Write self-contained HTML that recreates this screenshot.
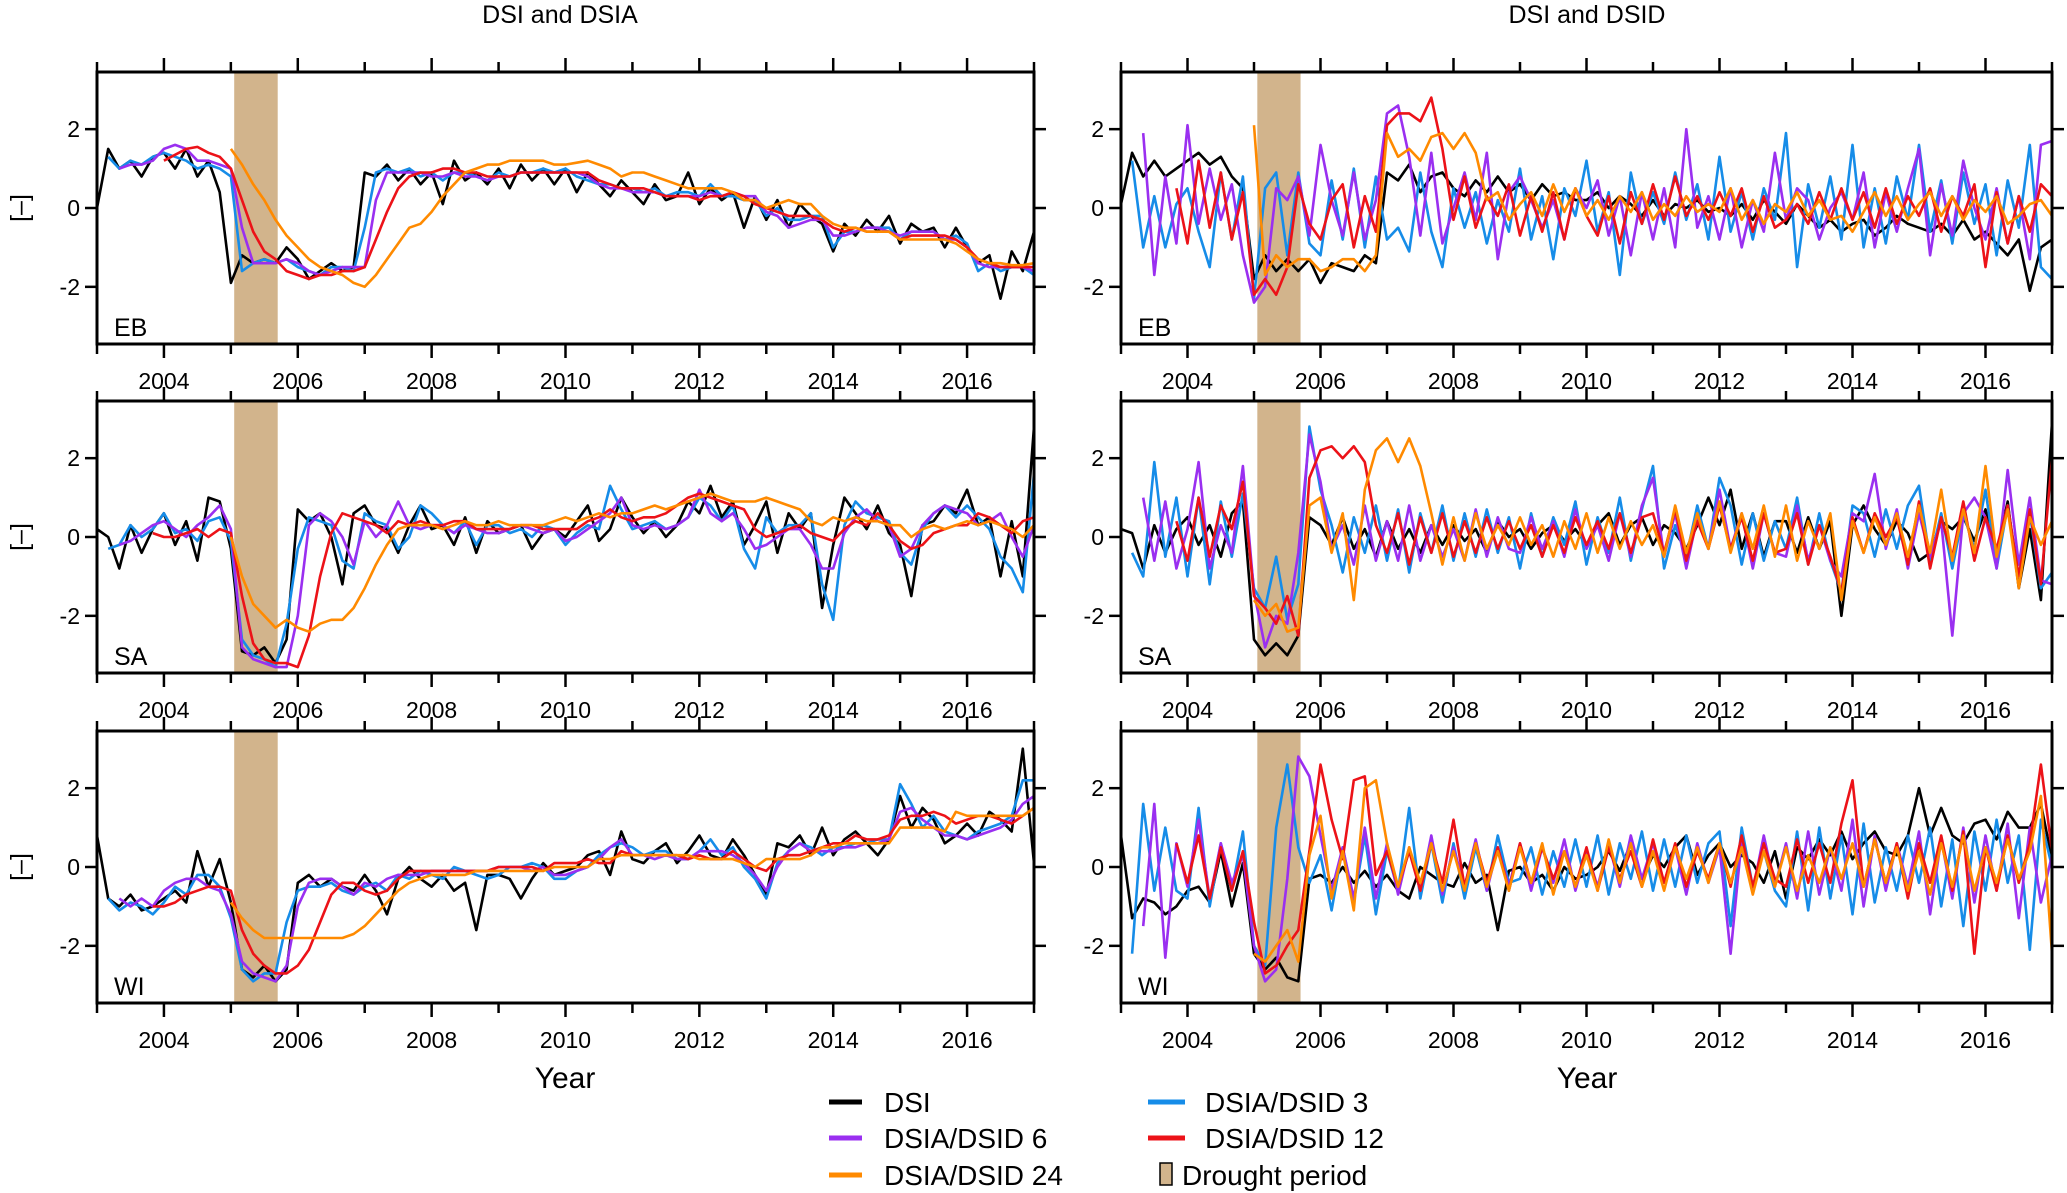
<!DOCTYPE html>
<html><head><meta charset="utf-8">
<style>
html,body{margin:0;padding:0;background:#fff;}
svg{display:block;font-family:"Liberation Sans",sans-serif;}
</style></head>
<body>
<svg id="fig" width="2067" height="1193" viewBox="0 0 2067 1193" xmlns="http://www.w3.org/2000/svg">
<text x="560" y="23" font-size="25" text-anchor="middle">DSI and DSIA</text>
<text x="1587" y="23" font-size="25" text-anchor="middle">DSI and DSID</text>
<text x="565" y="1088" font-size="30" text-anchor="middle">Year</text>
<text x="1587" y="1088" font-size="30" text-anchor="middle">Year</text>
<g id="legend">
 <g><line x1="829" y1="1102" x2="862" y2="1102" stroke="#000" stroke-width="5"/><text x="884" y="1112" font-size="28">DSI</text></g>
 <g><line x1="829" y1="1138" x2="862" y2="1138" stroke="#9a2ff0" stroke-width="5"/><text x="884" y="1148" font-size="28">DSIA/DSID 6</text></g>
 <g><line x1="829" y1="1175" x2="862" y2="1175" stroke="#ff8a00" stroke-width="5"/><text x="884" y="1185" font-size="28">DSIA/DSID 24</text></g>
 <g><line x1="1148" y1="1102" x2="1185" y2="1102" stroke="#168ce8" stroke-width="5"/><text x="1205" y="1112" font-size="28">DSIA/DSID 3</text></g>
 <g><line x1="1148" y1="1138" x2="1185" y2="1138" stroke="#ec1218" stroke-width="5"/><text x="1205" y="1148" font-size="28">DSIA/DSID 12</text></g>
 <g><rect x="1160" y="1163" width="12" height="22" fill="#d2b48c" stroke="#000" stroke-width="1.5"/><text x="1182" y="1185" font-size="28">Drought period</text></g>
</g>
</svg>
<script>
// time axis: bimonthly samples, 2003.0 .. 2017.0
const timeStep = 1/6;
const startYear = 2003;
const xTicksMajor = [2004,2006,2008,2010,2012,2014,2016];
const xTicksMinor = [2003,2005,2007,2009,2011,2013,2015,2017];
const yTicks = [-2,0,2];
const droughtPeriod = [2005.05, 2005.7];
const seriesNames = ['DSI','DSIA/DSID 3','DSIA/DSID 6','DSIA/DSID 12','DSIA/DSID 24'];
const regionLabels = ['EB','SA','WI'];
const N = null;

// ---- Left column (DSI and DSIA) ----
const ebDSI = [0,1.5,1.0,1.2,0.8,1.3, 1.4,1.0,1.5,0.8,1.2,0.4, -1.9,-1.2,-1.4,-1.3,-1.4,-1.0, -1.3,-1.8,-1.6,-1.4,-1.6,-1.5, 0.9,0.8,1.1,0.7,1.0,0.6, 0.9,0.1,1.2,0.7,0.9,0.6, 1.0,0.5,1.1,0.7,1.0,0.6, 1.0,0.4,0.9,0.6,0.3,0.7, 0.4,0.1,0.6,0.2,0.3,0.9, 0.1,0.5,0.2,0.4,-0.5,0.3, -0.3,0.2,-0.5,0.1,-0.2,-0.4, -1.1,-0.4,-0.7,-0.3,-0.6,-0.2, -0.9,-0.4,-0.6,-0.5,-1.0,-0.5, -1.0,-1.4,-1.2,-2.3,-1.1,-1.6, -0.6];
const ebA3 = [N,1.3,1.0,1.2,1.1,1.3, 1.4,1.3,1.2,1.0,1.1,1.0, 0.8,-1.6,-1.4,-1.3,-1.4,-1.3, -1.5,-1.6,-1.7,-1.5,-1.5,-1.6, -0.5,0.9,1.0,0.9,1.0,0.8, 0.9,0.7,0.9,0.9,0.8,0.7, 0.9,0.8,0.9,0.9,1.0,0.9, 1.0,0.8,0.7,0.6,0.6,0.5, 0.5,0.4,0.5,0.3,0.4,0.4, 0.3,0.6,0.3,0.3,0.2,0.2, -0.2,0.0,-0.3,-0.3,-0.2,-0.2, -1.0,-0.6,-0.6,-0.5,-0.5,-0.5, -0.8,-0.6,-0.6,-0.6,-0.8,-0.7, -0.9,-1.6,-1.4,-1.6,-1.5,-1.5, -1.7];
const ebA6 = [N,N,1.0,1.1,1.1,1.2, 1.5,1.6,1.5,1.2,1.2,1.1, 1.0,-0.5,-1.4,-1.4,-1.4,-1.3, -1.4,-1.6,-1.7,-1.6,-1.5,-1.5, -1.5,0.2,0.9,0.9,0.9,0.9, 0.8,0.8,0.9,0.8,0.8,0.7, 0.8,0.8,0.9,0.9,0.9,0.9, 0.9,0.9,0.8,0.6,0.5,0.5, 0.4,0.4,0.4,0.3,0.3,0.3, 0.3,0.4,0.3,0.4,0.3,0.3, -0.1,-0.2,-0.5,-0.4,-0.3,-0.3, -0.7,-0.7,-0.6,-0.5,-0.5,-0.6, -0.7,-0.6,-0.6,-0.6,-0.8,-0.8, -1.0,-1.4,-1.5,-1.5,-1.5,-1.5, -1.6];
const ebA12 = [N,N,N,N,N,N, 1.2,1.35,1.5,1.55,1.4,1.3, 1.0,0.2,-0.6,-1.1,-1.3,-1.6, -1.7,-1.8,-1.7,-1.7,-1.6,-1.6, -1.5,-0.8,-0.1,0.5,0.8,0.9, 0.9,1.0,1.0,0.9,0.9,0.8, 0.8,0.8,0.9,0.9,0.9,0.9, 0.9,0.9,0.9,0.7,0.6,0.5, 0.5,0.5,0.4,0.3,0.3,0.3, 0.2,0.3,0.3,0.4,0.3,0.1, 0.0,-0.1,-0.2,-0.2,-0.2,-0.3, -0.5,-0.6,-0.5,-0.6,-0.6,-0.6, -0.8,-0.7,-0.7,-0.7,-0.7,-0.8, -1.0,-1.3,-1.4,-1.5,-1.5,-1.5, -1.5];
const ebA24 = [N,N,N,N,N,N, N,N,N,N,N,N, 1.5,1.1,0.6,0.2,-0.3,-0.7, -1.0,-1.3,-1.5,-1.6,-1.7,-1.9, -2.0,-1.7,-1.3,-0.9,-0.5,-0.4, -0.1,0.3,0.6,0.9,1.0,1.1, 1.1,1.2,1.2,1.2,1.2,1.1, 1.1,1.15,1.2,1.1,1.0,0.8, 0.9,0.9,0.8,0.7,0.6,0.5, 0.5,0.5,0.5,0.4,0.2,0.2, 0.0,0.1,0.2,0.1,0.1,-0.2, -0.4,-0.5,-0.5,-0.6,-0.6,-0.6, -0.8,-0.8,-0.8,-0.8,-0.8,-0.9, -1.1,-1.3,-1.4,-1.4,-1.45,-1.45, -1.4];

const saDSI = [0.2,0.0,-0.8,0.3,-0.4,0.2, 0.6,-0.2,0.4,-0.6,1.0,0.9, -0.3,-2.9,-3.0,-2.8,-3.2,-2.6, 0.7,0.4,0.6,0.0,-1.2,0.6, 0.8,0.3,0.2,-0.4,0.3,0.8, 0.2,0.3,-0.2,0.5,-0.4,0.4, 0.1,0.2,0.3,-0.3,0.1,0.2, 0.0,0.4,0.8,-0.1,0.2,1.0, 0.5,0.1,0.4,0.0,0.3,0.9, 0.6,1.3,0.5,0.9,-0.2,0.3, 0.9,-0.4,0.6,0.2,0.6,-1.8, -0.2,1.0,0.6,0.2,0.8,0.1, -0.2,-1.5,0.3,0.4,0.8,0.6, 1.2,0.3,0.5,-1.0,0.4,-1.0, 2.8];
const saA3 = [N,-0.3,-0.2,0.3,0.0,0.2, 0.6,0.1,0.2,-0.1,0.4,0.5, -0.1,-2.6,-3.0,-3.1,-3.3,-2.2, -0.3,0.5,0.4,0.3,-0.6,-0.8, 0.6,0.4,0.3,-0.3,0.0,0.8, 0.6,0.3,0.1,0.4,-0.2,0.3, 0.3,0.1,0.2,0.0,0.3,0.2, -0.2,0.1,0.3,0.2,1.3,0.7, 0.2,0.3,0.4,0.2,0.3,0.5, 1.0,0.8,0.4,0.8,-0.3,-0.8, 0.5,0.1,0.3,0.3,0.6,-1.2, -2.1,0.3,0.9,0.6,0.5,0.4, -0.4,-0.7,0.2,0.6,0.8,0.5, 0.8,0.5,0.2,-0.5,-0.8,-1.4, 1.6];
const saA6 = [N,N,-0.2,-0.1,0.1,0.3, 0.4,0.2,0.0,0.3,0.5,0.8, 0.2,-2.8,-3.1,-3.2,-3.3,-3.3, -2.0,0.3,0.6,0.4,0.0,-0.7, 0.4,0.0,0.3,0.9,0.3,0.2, 0.3,0.3,0.1,0.3,0.2,0.1, 0.1,0.2,0.3,0.2,0.1,0.2, -0.1,0.0,0.2,0.4,0.6,1.0, 0.3,0.2,0.3,0.2,0.3,0.5, 1.2,0.6,0.4,0.6,0.2,-0.3, -0.2,0.0,0.2,0.2,-0.2,-0.8, -0.8,0.1,0.5,0.7,0.4,0.3, -0.5,-0.3,0.3,0.6,0.8,0.7, 0.6,0.3,0.4,0.6,0.0,-0.5, 0.3];
const saA12 = [N,N,N,N,N,0.1, 0.0,0.0,0.1,0.2,0.0,0.2, 0.1,-1.5,-2.7,-3.1,-3.2,-3.2, -3.3,-2.5,-1.0,0.1,0.6,0.5, 0.4,0.3,0.1,0.4,0.3,0.4, 0.3,0.3,0.4,0.4,0.2,0.2, 0.2,0.2,0.3,0.3,0.2,0.2, 0.2,0.2,0.4,0.5,0.7,0.5, 0.4,0.5,0.5,0.6,0.8,1.0, 1.1,1.0,0.9,0.8,0.7,0.2, 0.0,0.1,0.2,0.3,0.1,0.0, -0.1,0.2,0.4,0.3,0.6,0.3, -0.1,-0.3,-0.2,0.1,0.2,0.3, 0.3,0.6,0.5,0.3,0.1,0.4, 0.5];
const saA24 = [N,N,N,N,N,N, N,N,N,N,N,N, 0.0,-1.0,-1.7,-2.0,-2.3,-2.1, -2.3,-2.4,-2.2,-2.1,-2.1,-1.8, -1.3,-0.7,-0.2,0.2,0.3,0.3, 0.3,0.2,0.3,0.4,0.3,0.3, 0.4,0.3,0.3,0.3,0.3,0.4, 0.5,0.4,0.5,0.6,0.5,0.6, 0.6,0.7,0.8,0.7,0.8,0.9, 1.0,1.1,1.0,0.9,0.9,0.9, 1.0,0.9,0.8,0.7,0.4,0.3, 0.5,0.4,0.5,0.4,0.4,0.3, 0.3,0.0,0.2,0.3,0.2,0.3, 0.4,0.3,0.4,0.3,0.2,0.0, 0.3];

const wiDSI = [0.8,-0.8,-1.0,-0.7,-1.1,-1.0, -0.8,-0.6,-0.9,0.4,-0.5,0.2, -0.9,-2.6,-2.8,-2.5,-2.9,-2.6, -0.4,-0.2,-0.5,-0.3,-0.5,-0.6, -0.2,-0.6,-1.2,-0.3,0.0,-0.3, -0.5,-0.2,-0.6,-0.4,-1.6,-0.2, -0.2,-0.3,-0.8,-0.3,0.1,-0.2, -0.1,0.0,0.3,0.4,-0.2,0.9, 0.2,0.1,0.4,0.6,0.1,0.4, 0.8,0.3,0.2,0.7,0.3,-0.2, -0.7,0.6,0.5,0.8,0.3,1.0, 0.3,0.7,0.9,0.6,0.3,0.7, 1.8,1.0,1.5,1.2,0.6,0.8, 1.1,0.8,1.4,1.2,0.9,3.0, 0.1];
const wiA3 = [N,-0.8,-1.1,-0.9,-1.0,-1.2, -0.9,-0.5,-0.7,-0.2,-0.2,-0.5, -1.3,-2.6,-2.9,-2.7,-2.7,-1.4, -0.6,-0.5,-0.5,-0.4,-0.6,-0.7, -0.5,-0.4,-0.6,-0.2,-0.3,-0.1, -0.2,-0.3,0.0,-0.1,-0.2,-0.3, -0.2,0.0,0.0,0.1,0.0,-0.3, -0.3,-0.1,0.0,0.3,0.5,0.6, 0.5,0.3,0.4,0.4,0.2,0.2, 0.4,0.7,0.3,0.5,0.0,-0.3, -0.8,0.1,0.4,0.6,0.5,0.3, 0.5,0.5,0.6,0.6,0.7,0.7, 2.1,1.6,1.0,1.3,0.9,0.8, 0.7,0.9,1.0,1.1,1.3,2.2, 2.2];
const wiA6 = [N,N,-0.8,-1.0,-0.8,-1.0, -0.6,-0.4,-0.3,-0.3,-0.5,-0.6, -1.2,-2.4,-2.7,-2.8,-2.9,-2.5, -1.0,-0.4,-0.3,-0.3,-0.5,-0.7, -0.4,-0.5,-0.3,-0.2,-0.2,-0.2, -0.1,-0.1,-0.1,-0.1,-0.1,-0.1, 0.0,0.0,0.0,-0.1,0.0,-0.2, -0.2,-0.1,0.0,0.2,0.5,0.7, 0.3,0.3,0.2,0.3,0.2,0.2, 0.4,0.4,0.4,0.3,0.1,-0.2, -0.6,0.0,0.4,0.6,0.4,0.4, 0.4,0.5,0.5,0.6,0.6,0.7, 1.4,1.5,1.2,1.0,0.8,0.8, 0.7,0.8,0.9,1.0,1.2,1.6, 1.8];
const wiA12 = [N,N,N,N,N,-1.0, -1.0,-0.9,-0.7,-0.6,-0.5,-0.5, -0.6,-1.6,-2.2,-2.5,-2.7,-2.7, -2.5,-2.1,-1.4,-0.7,-0.4,-0.4, -0.6,-0.7,-0.6,-0.3,-0.1,-0.1, -0.1,-0.1,-0.1,-0.1,-0.1,-0.1, 0.0,0.0,0.0,0.0,-0.1,0.1, 0.1,0.1,0.2,0.1,0.1,0.4, 0.3,0.3,0.3,0.3,0.3,0.2, 0.3,0.2,0.2,0.4,0.2,0.0, -0.1,0.2,0.3,0.3,0.4,0.5, 0.6,0.6,0.8,0.7,0.7,0.8, 1.2,1.3,1.3,1.4,1.3,1.1, 1.2,1.3,1.3,1.2,1.1,1.3, 1.5];
const wiA24 = [N,N,N,N,N,N, N,N,N,N,N,N, -0.9,-1.3,-1.6,-1.8,-1.8,-1.8, -1.8,-1.8,-1.8,-1.8,-1.8,-1.7, -1.5,-1.2,-0.9,-0.6,-0.4,-0.3, -0.2,-0.2,-0.2,-0.2,-0.1,-0.1, -0.1,-0.1,-0.1,-0.1,-0.1,0.0, 0.0,0.0,0.0,0.2,0.2,0.3, 0.3,0.3,0.3,0.3,0.3,0.3, 0.2,0.2,0.2,0.2,0.1,0.0, 0.2,0.2,0.2,0.2,0.3,0.5, 0.5,0.6,0.6,0.6,0.6,0.6, 1.0,1.0,1.0,1.0,0.9,1.4, 1.3,1.3,1.3,1.3,1.3,1.3, 1.5];

// ---- Right column (DSI and DSID) ----
const ebD_DSI = [0.1,1.4,0.8,1.2,0.8,1.0, 1.2,1.4,1.1,1.3,0.8,0.5, -1.8,-1.2,-1.6,-1.3,-1.6,-1.3, -1.9,-1.4,-1.5,-1.6,-1.2,-1.4, 0.9,0.7,1.1,0.4,0.8,0.9, 0.5,0.3,0.7,0.4,0.8,0.4, 0.6,0.2,0.6,0.3,0.4,0.2, 0.2,0.4,0.0,0.3,0.1,-0.2, 0.2,-0.2,0.1,0.0,0.2,-0.1, 0.0,-0.2,0.1,-0.3,0.2,-0.1, -0.4,0.1,-0.2,-0.5,-0.3,-0.6, -0.4,-0.3,-0.7,-0.5,-0.2,-0.4, -0.5,-0.6,-0.4,-0.7,-0.3,-0.8, -0.6,-0.9,-1.2,-0.8,-2.1,-1.0, -0.8];
const ebD3 = [N,1.2,-1.0,0.3,-1.0,0.1, 0.5,-0.6,-1.5,0.9,-0.8,0.8, -2.3,0.5,0.9,-1.2,0.9,-0.9, -1.2,0.7,-0.8,1.0,-1.0,0.8, -0.8,-0.5,-1.1,0.9,-0.6,-1.5, 0.5,-0.5,0.4,-0.9,0.2,-0.6, 1.0,-0.8,0.3,-1.3,0.5,-0.2, 1.2,-0.6,0.4,-1.7,0.9,-0.4, 0.4,-0.4,0.9,-0.3,0.6,-0.8, 1.3,-0.6,0.4,-0.8,0.5,-0.3, 1.9,-1.5,0.6,-0.5,0.8,-0.8, 1.6,-1.0,0.5,-0.9,0.8,-0.3, 1.6,-0.6,0.7,-0.9,0.9,-0.4, 0.6,-1.2,0.7,-0.5,1.6,-1.5, -1.8];
const ebD6 = [N,N,1.9,-1.7,0.8,-0.9, 2.1,-0.4,1.0,-0.3,0.6,-1.2, -2.4,-2.0,0.5,0.2,0.8,-0.7, 1.6,0.2,-0.7,0.9,-0.8,0.2, 2.4,2.6,1.3,-0.7,1.4,-0.9, 0.0,0.9,-0.3,1.4,-1.3,0.4, 0.8,0.2,-0.5,0.2,-0.8,0.5, 0.0,0.7,-0.7,0.3,-1.2,0.4, -0.8,0.5,-1.0,2.0,-0.5,0.3, -0.8,0.5,-1.0,0.2,-0.6,1.4, -0.3,0.5,0.2,-0.8,0.0,0.4, -0.3,0.9,-1.0,0.4,-0.6,0.5, 1.5,-1.2,0.6,-0.7,1.2,0.0, -0.8,0.5,-0.9,0.3,-1.3,1.6, 1.7];
const ebD12 = [N,N,N,N,N,0.5, -0.9,1.2,-0.5,0.9,-0.8,0.4, -2.2,-1.8,-2.2,-1.5,0.6,-0.4, -0.8,0.2,0.6,-1.0,0.3,-0.6, 2.1,2.4,2.4,2.2,2.8,1.5, -0.3,0.8,-0.5,0.3,-0.2,0.6, -0.7,0.3,-0.6,0.4,-0.8,0.5, -0.2,-0.7,0.3,-0.9,0.4,-0.4, 0.6,-0.3,0.8,-0.2,0.3,-0.3, 0.4,-0.2,0.5,-0.6,0.3,-0.5, -0.3,0.1,-0.4,0.4,-0.3,0.5, -0.3,0.4,-0.5,0.5,-0.4,0.3, -0.2,0.5,-0.6,0.3,-0.2,0.6, -1.5,0.4,-0.9,0.3,-0.6,0.6, 0.3];
const ebD24 = [N,N,N,N,N,N, N,N,N,N,N,N, 2.1,-1.7,-1.2,-1.5,-1.3,-1.3, -1.6,-1.5,-1.3,-1.3,-1.6,-1.2, 1.9,1.3,1.5,1.2,1.8,1.9, 1.5,1.9,1.4,0.2,0.4,-0.3, 0.1,0.4,-0.2,0.6,-0.1,0.5, -0.2,0.2,-0.3,0.3,-0.1,0.4, -0.3,0.1,-0.2,0.3,-0.1,0.1, -0.1,0.5,-0.3,0.2,-0.4,0.1, -0.1,0.4,-0.2,0.2,-0.3,-0.2, -0.6,-0.1,0.4,-0.2,0.3,-0.3, 0.1,0.4,-0.2,0.3,-0.3,0.2, -0.1,0.3,-0.4,-0.2,0.1,0.2, -0.2];

const saD_DSI = [0.2,0.1,-0.8,0.3,-0.4,0.2, 0.5,-0.2,0.3,-0.5,0.6,0.9, -2.6,-3.0,-2.7,-3.0,-2.5,0.5, 0.3,-0.2,0.5,-0.3,0.2,-0.5, 0.4,-0.3,0.2,-0.4,0.3,-0.2, 0.3,-0.1,0.2,-0.4,0.4,0.0, 0.2,-0.3,0.1,0.3,-0.1,0.2, -0.2,0.3,0.6,-0.2,0.3,0.5, -0.2,0.3,0.1,-0.3,0.3,1.0, 0.3,1.2,-0.3,0.6,-0.5,0.4, 0.4,-0.4,0.5,-0.3,0.4,-2.0, 0.3,0.8,0.2,-0.2,0.4,0.1, -0.6,-0.4,0.4,0.2,0.5,-0.1, 0.7,-0.4,0.9,-1.3,0.2,-1.6, 2.9];
const saD3 = [N,-0.4,-1.0,1.9,-0.5,1.0, -1.0,1.0,-1.2,0.9,-0.5,1.1, -1.3,-1.8,-0.5,-2.1,-1.2,2.8, 1.2,0.3,-0.9,0.5,-0.4,0.8, -0.6,0.7,-0.9,0.6,-0.4,0.8, -0.6,0.6,-0.5,0.7,-0.4,0.5, -0.8,0.6,-0.5,0.5,-0.2,0.9, -0.7,0.5,-0.4,1.0,-0.6,0.7, 1.8,-0.8,0.3,-0.5,0.8,-0.3, 1.5,0.8,-0.7,0.6,-0.6,0.4, -0.3,1.0,-0.7,0.6,-0.6,-1.4, 0.8,0.6,-0.5,0.7,-0.3,0.8, 1.3,-0.6,0.6,-0.8,0.6,-0.3, 1.2,-0.8,0.8,-1.0,0.6,-1.3, -0.9];
const saD6 = [N,N,1.0,-0.6,0.9,-0.8, 0.2,1.9,-0.8,0.3,-0.4,1.8, -1.4,-2.8,-2.0,-2.2,-0.4,2.6, 1.4,-0.3,0.3,-0.7,0.8,-0.6, 0.4,-0.6,0.8,-0.6,0.3,-0.5, 0.2,-0.6,0.7,-0.5,0.5,-0.3, -0.4,0.5,-0.3,0.4,-0.5,0.7, -0.3,0.3,-0.6,0.6,-0.5,0.8, 1.5,-0.5,0.6,-0.8,0.5,-0.3, 1.2,-0.3,0.6,-0.8,0.6,-0.4, -0.5,0.8,-0.6,0.3,-0.6,-1.0, 0.6,0.4,1.6,-0.3,0.7,-0.8, 0.6,-0.5,0.4,-2.5,0.6,1.0, 0.5,-0.8,1.7,-0.7,1.0,-1.1, -1.2];
const saD12 = [N,N,N,N,N,0.4, -0.6,1.0,-0.5,0.8,0.2,1.4, -1.5,-1.8,-2.2,-1.5,-2.5,1.5, 2.2,2.3,2.0,2.3,1.9,0.3, -0.4,0.6,-0.7,0.5,-0.4,0.6, -0.5,0.4,-0.4,0.5,-0.3,0.4, -0.3,0.3,-0.5,0.3,-0.4,0.5, -0.2,0.4,-0.3,0.6,-0.4,0.5, 0.6,-0.4,0.7,-0.6,0.4,-0.3, 0.8,-0.3,0.5,-0.6,0.6,-0.4, -0.3,0.6,-0.7,0.3,-0.5,-1.4, 0.5,-0.4,0.6,0.0,0.5,-0.7, 0.9,-0.8,0.5,-0.5,0.9,-0.6, 0.5,-0.3,0.8,-1.0,0.7,-1.2, 2.0];
const saD24 = [N,N,N,N,N,N, N,N,N,N,N,N, -1.6,-2.0,-1.7,-2.4,-2.3,0.8, 1.0,-0.4,0.6,-1.6,1.2,2.2, 2.5,1.9,2.5,1.8,0.6,-0.7, 0.5,-0.6,0.6,-0.3,0.3,-0.2, 0.5,-0.2,0.3,-0.5,0.4,-0.3, 0.6,-0.4,0.5,-0.3,0.4,-0.2, 0.3,-0.5,0.8,-0.4,0.6,-0.3, 0.9,-0.4,0.6,-0.3,0.8,-0.5, 0.8,-0.6,0.4,-0.3,0.6,-1.6, 0.4,-0.4,0.5,-0.2,0.6,-0.5, 0.8,-0.4,1.2,-0.6,0.7,-0.4, 1.8,-0.5,0.7,-1.3,0.5,-0.2, 0.4];

const wiD_DSI = [0.8,-1.3,-0.8,-0.9,-1.2,-1.0, -0.6,-0.5,-0.9,0.4,-1.0,0.1, -2.2,-2.6,-2.3,-2.8,-2.9,-0.3, -0.2,-0.4,0.0,-0.4,-0.1,-0.5, -0.2,-0.6,-0.8,0.0,-0.2,-0.4, -0.5,0.1,-0.4,-0.2,-1.6,-0.1, 0.0,-0.4,-0.2,-0.6,0.0,-0.3, -0.2,0.0,0.4,-0.1,0.6,-0.3, 0.3,0.0,0.5,0.8,-0.2,0.3, 0.6,0.0,0.3,0.1,-0.4,0.4, -0.8,0.5,0.2,0.7,0.3,0.9, 0.2,0.6,0.9,0.4,0.3,0.8, 2.0,0.8,1.5,0.8,0.6,1.1, 1.2,0.7,1.4,1.0,1.0,1.6, 0.2];
const wiD3 = [N,-2.2,1.6,-0.6,1.0,-0.6, -0.8,1.5,-1.0,0.6,-0.6,0.9, -2.0,-2.5,1.0,2.6,0.5,-0.4, 0.3,-1.1,0.5,-0.9,0.8,-1.2, 0.4,-0.6,1.5,-0.8,0.6,-0.9, 0.6,-0.8,0.5,-0.6,0.8,-0.4, -0.3,0.5,-0.7,0.4,-0.5,0.7, -0.5,0.8,-0.7,0.6,-0.3,0.9, -0.6,0.7,-0.5,0.8,-0.4,0.6, 0.9,-1.5,1.0,-0.5,0.4,-0.6, -1.0,0.9,-1.1,1.0,-0.8,0.8, -1.2,1.1,-0.9,0.5,-0.6,0.8, -0.4,1.0,-1.0,0.7,-1.5,0.9, -0.6,1.2,-0.4,0.8,-2.1,1.2, 0.0];
const wiD6 = [N,N,-1.5,1.6,-2.3,0.6, -0.5,1.2,-0.8,0.6,-0.4,0.3, -2.0,-2.9,-2.6,-0.3,2.8,2.3, 0.8,-0.6,0.5,-0.8,1.0,-0.8, 0.6,-0.7,0.5,-0.6,0.8,-0.7, 0.5,-0.5,0.7,-0.6,0.5,-0.5, 0.6,-0.6,0.5,-0.4,0.7,-0.6, 0.4,-0.5,0.6,-0.5,0.8,-0.3, 0.6,-0.4,0.5,-0.7,0.6,-0.4, 0.5,-2.2,0.7,-0.6,0.8,-0.5, 0.6,-0.8,0.9,-0.7,0.5,-0.6, 1.2,-1.0,0.8,-0.6,0.6,-0.5, 0.9,-1.2,0.7,-0.8,1.0,-0.9, 0.8,-0.6,1.1,-1.3,1.0,-0.9, 0.3];
const wiD12 = [N,N,N,N,N,0.6, -0.4,0.8,-0.8,0.5,-0.6,0.4, -1.4,-2.7,-2.5,-2.0,-1.6,0.4, 2.6,1.2,0.2,2.2,2.3,-0.2, 0.4,-0.5,0.4,-0.6,0.6,-0.4, 1.2,-0.5,0.6,-0.4,0.5,-0.6, 0.6,-0.4,0.5,-0.3,0.4,-0.5, 0.5,-0.6,0.5,-0.3,0.4,-0.5, 0.7,-0.4,0.6,-0.5,0.4,-0.3, 0.6,-0.5,0.8,-0.5,0.6,-0.3, -0.5,0.7,-0.4,0.6,-0.4,1.1, 2.2,-0.5,0.7,-0.4,0.6,-0.8, 0.6,-0.4,0.8,-0.6,0.9,-2.2, 0.5,-0.6,0.8,-0.4,0.6,2.6, 0.4];
const wiD24 = [N,N,N,N,N,N, N,N,N,N,N,N, -2.2,-2.4,-2.0,-1.6,-2.4,0.3, 1.3,-0.8,0.4,-1.1,2.0,2.2, 0.6,-0.5,0.5,-0.4,0.6,-0.6, 0.4,-0.6,0.6,-0.5,0.4,-0.6, 0.5,-0.4,0.6,-0.7,0.4,-0.5, 0.3,-0.6,0.7,-0.4,0.6,-0.5, 0.4,-0.6,0.5,-0.3,0.5,-0.4, 0.6,-0.4,0.5,-0.7,0.4,-0.5, 0.5,-0.6,0.3,-0.4,0.5,-0.3, 0.6,-0.5,0.7,-0.4,0.5,-0.6, 0.4,-0.7,0.6,-0.5,0.8,-0.6, 0.5,-0.4,0.7,-0.3,0.4,1.8, -2.2];

const colors = ['#000000','#168ce8','#9a2ff0','#ec1218','#ff8a00'];
const drawOrder = [0,1,2,3,4];

const svg = document.getElementById('fig');
const NS = 'http://www.w3.org/2000/svg';
function mk(tag, attrs){ const e=document.createElementNS(NS,tag); for(const k in attrs) e.setAttribute(k,attrs[k]); return e; }

const colLeft = [97, 1034];
const colRight = [1121, 2052];
const rowTops = [72, 401, 731];
const rowH = 272;
const yMin = -3.45, yMax = 3.45;

const panels = [
 {col:colLeft,row:0,label:'EB',ylab:true,series:[ebDSI,ebA3,ebA6,ebA12,ebA24],key:'left-eb'},
 {col:colLeft,row:1,label:'SA',ylab:true,series:[saDSI,saA3,saA6,saA12,saA24],key:'left-sa'},
 {col:colLeft,row:2,label:'WI',ylab:true,series:[wiDSI,wiA3,wiA6,wiA12,wiA24],key:'left-wi'},
 {col:colRight,row:0,label:'EB',ylab:false,series:[ebD_DSI,ebD3,ebD6,ebD12,ebD24],key:'right-eb'},
 {col:colRight,row:1,label:'SA',ylab:false,series:[saD_DSI,saD3,saD6,saD12,saD24],key:'right-sa'},
 {col:colRight,row:2,label:'WI',ylab:false,series:[wiD_DSI,wiD3,wiD6,wiD12,wiD24],key:'right-wi'}
];

panels.forEach(p=>{
  const x0=p.col[0], x1=p.col[1], y0=rowTops[p.row], y1=y0+rowH;
  const X = t => x0 + (t-2003)/(2017-2003)*(x1-x0);
  const Y = v => y1 - (v-yMin)/(yMax-yMin)*(y1-y0);
  const g = mk('g',{});
  
  
  svg.appendChild(g);
  const clipId='clip-'+p.key;
  const cp=mk('clipPath',{id:clipId}); cp.appendChild(mk('rect',{x:x0,y:y0,width:x1-x0,height:rowH})); g.appendChild(cp);
  const dr = mk('rect',{x:X(droughtPeriod[0]),y:y0,width:X(droughtPeriod[1])-X(droughtPeriod[0]),height:rowH,fill:'#d2b48c'});
  
  
  g.appendChild(dr);
  const lg = mk('g',{'clip-path':'url(#'+clipId+')'});
  g.appendChild(lg);
  drawOrder.forEach(si=>{
    const vals=p.series[si];
    let d='', pen=false;
    vals.forEach((v,i)=>{
      if(v===null||v===undefined){pen=false;return;}
      const t=startYear+i*timeStep;
      d += (pen?'L':'M')+X(t).toFixed(1)+' '+Y(v).toFixed(1);
      pen=true;
    });
    const path=mk('path',{d:d,fill:'none',stroke:colors[si],'stroke-width':2.6,'stroke-linejoin':'round'});
    
    
    lg.appendChild(path);
  });
  const fr = mk('rect',{x:x0,y:y0,width:x1-x0,height:rowH,fill:'none',stroke:'#000','stroke-width':3});
  
  
  g.appendChild(fr);
  // x ticks top & bottom
  const allX = xTicksMajor.map(t=>[t,14]).concat(xTicksMinor.map(t=>[t,10]));
  allX.forEach(([t,len])=>{
    g.appendChild(mk('line',{x1:X(t),x2:X(t),y1:y1,y2:y1+len,stroke:'#000','stroke-width':2.5}));
    g.appendChild(mk('line',{x1:X(t),x2:X(t),y1:y0,y2:y0-len,stroke:'#000','stroke-width':2.5}));
  });
  xTicksMajor.forEach(t=>{
    const tx=mk('text',{x:X(t),y:y1+45,'font-size':23,'text-anchor':'middle'});
    tx.textContent=String(t);
    
    
    g.appendChild(tx);
  });
  yTicks.forEach(v=>{
    g.appendChild(mk('line',{x1:x0-12,x2:x0,y1:Y(v),y2:Y(v),stroke:'#000','stroke-width':2.5}));
    g.appendChild(mk('line',{x1:x1,x2:x1+12,y1:Y(v),y2:Y(v),stroke:'#000','stroke-width':2.5}));
    const tx=mk('text',{x:x0-17,y:Y(v)+8,'font-size':23,'text-anchor':'end'});
    tx.textContent=String(v);
    
    
    g.appendChild(tx);
  });
  const rl=mk('text',{x:x0+17,y:y1-8,'font-size':25});
  rl.textContent=p.label;
  
  
  g.appendChild(rl);
  if(p.ylab){
    const yl=mk('text',{x:0,y:0,'font-size':25,'text-anchor':'middle',transform:'translate(28,'+((y0+y1)/2)+') rotate(-90)'});
    yl.textContent='[–]';
    
    
    g.appendChild(yl);
  }
});
</script>
</body></html>
